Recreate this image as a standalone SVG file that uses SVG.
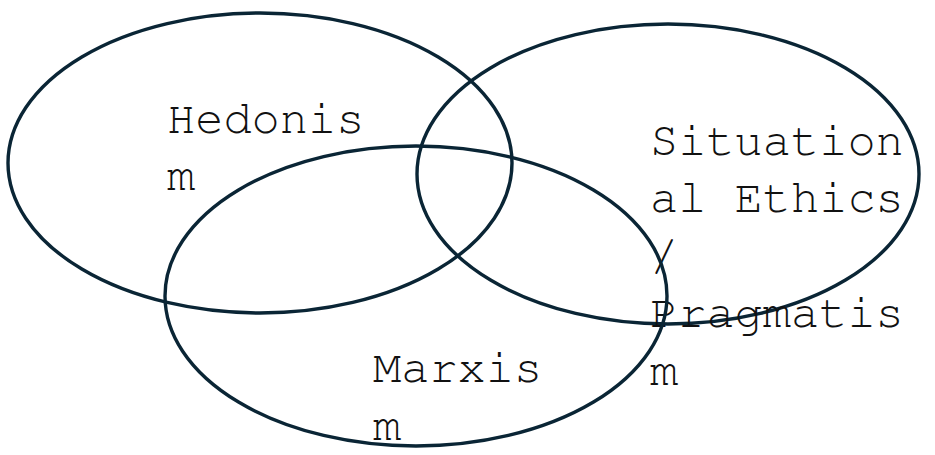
<svg xmlns="http://www.w3.org/2000/svg" width="935" height="455" viewBox="0 0 935 455">
<style>
.c{fill:none;stroke:#0a2535;stroke-width:3.4}
.t{font-family:"Nimbus Mono PS","FreeMono","Courier New","Liberation Mono",monospace;font-size:47px;fill:#111}
</style>
<rect width="935" height="455" fill="#fff"/>
<g id="hedonism">
<ellipse class="c" cx="260" cy="163" rx="252" ry="150"/>
<text class="t" x="167" y="133">Hedonis</text>
<text class="t" x="167" y="190">m</text>
</g>
<g id="situational">
<ellipse class="c" cx="668" cy="174" rx="251" ry="150"/>
<text class="t" x="650" y="155">Situation</text>
<text class="t" x="650" y="212">al Ethics</text>
<text class="t" x="650" y="270">/</text>
<text class="t" x="650" y="327">Pragmatis</text>
<text class="t" x="650" y="385">m</text>
</g>
<g id="marxism">
<ellipse class="c" cx="416" cy="296" rx="251" ry="150"/>
<text class="t" x="373" y="382">Marxis</text>
<text class="t" x="373" y="440">m</text>
</g>
<g id="connectors"/>
</svg>
